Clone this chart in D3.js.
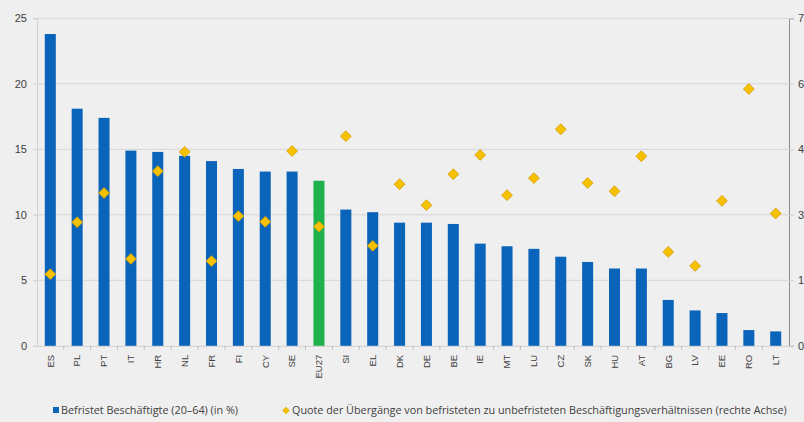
<!DOCTYPE html>
<html>
<head>
<meta charset="utf-8">
<script src="https://cdn.jsdelivr.net/npm/d3@7"></script>
<style>
  body { margin: 0; background: #efefef; }
  svg { display: block; font-family: "Open Sans", "Noto Sans", sans-serif; }
</style>
</head>
<body>
<svg id="chart" width="804" height="422"></svg>
<script>
const countries = ['ES', 'PL', 'PT', 'IT', 'HR', 'NL', 'FR', 'FI', 'CY', 'SE', 'EU27', 'SI', 'EL', 'DK', 'DE',
  'BE', 'IE', 'MT', 'LU', 'CZ', 'SK', 'HU', 'AT', 'BG', 'LV', 'EE', 'RO', 'LT'];
// Befristet Beschäftigte (20-64), in %
const befristet = [23.8, 18.1, 17.4, 14.9, 14.8, 14.5, 14.1, 13.5, 13.3, 13.3, 12.6, 10.4, 10.2, 9.4, 9.4,
  9.3, 7.8, 7.6, 7.4, 6.8, 6.4, 5.9, 5.9, 3.5, 2.7, 2.5, 1.2, 1.1];
// Quote der Übergänge (rechte Achse)
const quote = [16.4, 28.3, 35.0, 19.9, 40.0, 44.4, 19.4, 29.7, 28.4, 44.6, 27.3, 48.0, 22.9, 37.0, 32.2,
  39.3, 43.7, 34.5, 38.4, 49.6, 37.3, 35.4, 43.4, 21.5, 18.3, 33.2, 58.8, 30.3];
const leftTicks = [0, 5, 10, 15, 20, 25];
const rightTicks = [0, 15, 30, 45, 60, 75];
const legendLabels = ['Befristet Beschäftigte (20–64) (in %)',
  'Quote der Übergänge von befristeten zu unbefristeten Beschäftigungsverhältnissen (rechte Achse)'];

const svg = d3.select('#chart');
const plotLeft = 37, plotRight = 789, plotTop = 18.3, plotBottom = 345.8;

const x = d3.scaleBand()
  .domain(countries)
  .range([plotLeft, plotRight])
  .paddingInner(0.59)
  .paddingOuter(0.29);

const y = d3.scaleLinear().domain([0, 25]).range([plotBottom, plotTop]);
const y2 = d3.scaleLinear().domain([0, 75]).range([plotBottom, plotTop]);

// gridlines
svg.append('g')
  .selectAll('line')
  .data(leftTicks.slice(1))
  .enter()
    .append('line')
    .attr('x1', plotLeft)
    .attr('x2', plotRight)
    .attr('y1', d => y(d))
    .attr('y2', d => y(d))
    .attr('stroke', '#d6d6d6')
    .attr('stroke-width', 1);

// left axis
const yAxis = svg.append('g')
  .attr('transform', `translate(${plotLeft},0)`)
  .call(d3.axisLeft(y).tickValues(leftTicks).tickSize(4).tickPadding(6));
yAxis.select('.domain').attr('stroke', '#cfcfcf');
yAxis.selectAll('.tick line').attr('stroke', '#cfcfcf');
yAxis.selectAll('text').attr('fill', '#404040').style('font-size', '11px');

// right axis (labels run off the right edge, as in the original)
const y2Axis = svg.append('g')
  .attr('transform', `translate(${plotRight},0)`)
  .call(d3.axisRight(y2).tickValues(rightTicks).tickSize(5).tickPadding(4));
y2Axis.select('.domain').attr('stroke', '#8a8a8a');
y2Axis.selectAll('.tick line').attr('stroke', '#cfcfcf');
y2Axis.selectAll('text').attr('fill', '#404040').style('font-size', '11px');

// x axis
const xAxis = svg.append('g')
  .attr('transform', `translate(0,${plotBottom})`)
  .call(d3.axisBottom(x).tickSize(0).tickPadding(0));
xAxis.select('.domain').attr('stroke', '#d0d0d0');
xAxis.selectAll('text')
  .attr('fill', '#404040')
  .style('font-size', '9.5px')
  .attr('text-anchor', 'end')
  .attr('dy', '0.35em')
  .attr('transform', 'translate(0,9) rotate(-90)')
  .attr('x', 0)
  .attr('y', 0);

// small separators between categories
const step = x.step();
svg.append('g')
  .selectAll('line')
  .data(countries.slice(1))
  .enter()
    .append('line')
    .attr('x1', d => x(d) - (step - x.bandwidth()) / 2)
    .attr('x2', d => x(d) - (step - x.bandwidth()) / 2)
    .attr('y1', plotBottom)
    .attr('y2', plotBottom + 4)
    .attr('stroke', '#bdbdbd');

// bars
svg.append('g')
  .selectAll('rect')
  .data(countries)
  .enter()
    .append('rect')
    .attr('x', d => x(d))
    .attr('y', (d, i) => y(befristet[i]))
    .attr('width', x.bandwidth())
    .attr('height', (d, i) => plotBottom - y(befristet[i]))
    .attr('fill', d => d === 'EU27' ? '#1fb14b' : '#0a64ba');

// diamonds
const diamond = d3.symbol().type(d3.symbolDiamond2).size(75);
svg.append('g')
  .selectAll('path')
  .data(countries)
  .enter()
    .append('path')
    .attr('d', diamond)
    .attr('transform', (d, i) => `translate(${x(d) + x.bandwidth() / 2},${y2(quote[i])})`)
    .attr('fill', '#f6c100')
    .attr('stroke', '#d49a00')
    .attr('stroke-width', 0.8);

// legend
const legend = svg.append('g').style('font-size', '10.8px').attr('fill', '#404040');
legend.append('rect')
  .attr('x', 53).attr('y', 407).attr('width', 6).attr('height', 6)
  .attr('fill', '#0a64ba');
legend.append('text')
  .attr('x', 61).attr('y', 414)
  .text(legendLabels[0]);
legend.append('path')
  .attr('d', d3.symbol().type(d3.symbolDiamond2).size(28))
  .attr('transform', 'translate(286,410.5)')
  .attr('fill', '#f6c100')
  .attr('stroke', '#d49a00')
  .attr('stroke-width', 0.6);
legend.append('text')
  .attr('x', 292).attr('y', 414)
  .text(legendLabels[1]);
</script>
</body>
</html>
